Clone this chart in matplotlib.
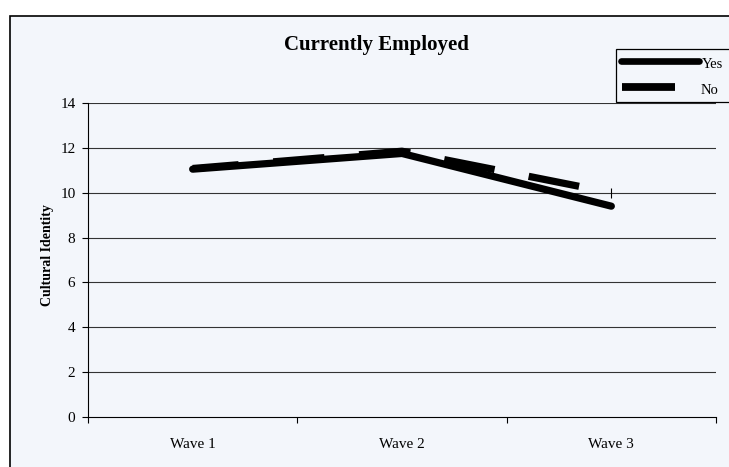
import matplotlib
matplotlib.use("Agg")
import matplotlib.pyplot as plt
from matplotlib.patches import Rectangle
from matplotlib.lines import Line2D

plt.rcParams["font.family"] = ["Liberation Serif", "DejaVu Serif"]
plt.rcParams["lines.scale_dashes"] = False

# Data
waves = ["Wave 1", "Wave 2", "Wave 3"]
employed_yes = [11.05, 11.75, 9.4]
employed_no = [11.08, 11.85, 10.0]
y_ticks = [0, 2, 4, 6, 8, 10, 12, 14]

W, H = 729, 467
BG = "#F3F6FB"
fig = plt.figure(figsize=(W / 100, H / 100), dpi=100)
fig.patch.set_facecolor("white")

def fx(px):
    return px / W

def fy(py):
    return 1 - py / H

# Outer chart frame (open on the right and bottom edges)
fig.patches.append(Rectangle((fx(9.5), fy(500)), fx(760), fy(16) - fy(500),
                             transform=fig.transFigure, facecolor=BG,
                             edgecolor="black", linewidth=1.2, zorder=-5))

ax = fig.add_axes([fx(88), fy(417), fx(716) - fx(88), fy(103) - fy(417)])
ax.set_facecolor("none")
ax.set_zorder(2)

x = list(range(len(waves)))
ax.plot(x, employed_yes, color="black", linewidth=5.2, solid_capstyle="round",
        solid_joinstyle="round", zorder=3)
ax.plot(x, employed_no, color="black", linewidth=5.2,
        linestyle=(3.8, (37, 25)), dash_capstyle="butt", zorder=3)
ax.plot([x[-1]], [employed_no[-1]], marker="|", markersize=7,
        markeredgewidth=0.8, color="black", zorder=3)

ax.set_xlim(-0.5, len(waves) - 0.5)
ax.set_ylim(0, 14)
ax.set_yticks(y_ticks)
ax.set_yticklabels([str(t) for t in y_ticks], fontsize=11)
ax.set_xticks(x)
ax.set_xticklabels(waves, fontsize=11)
ax.set_xticks([-0.5, 0.5, 1.5, 2.5], minor=True)
ax.tick_params(axis="x", which="major", length=0, pad=15)
ax.tick_params(axis="x", which="minor", length=4, width=0.8, direction="out")
ax.tick_params(axis="y", length=4, width=0.8, direction="out", pad=5)

for t in y_ticks[1:]:
    ax.axhline(t, color="#333333", linewidth=0.8, zorder=1)

for side in ["top", "right"]:
    ax.spines[side].set_visible(False)
for side in ["left", "bottom"]:
    ax.spines[side].set_linewidth(0.8)

ax.set_ylabel("Cultural Identity", fontsize=10, fontweight="bold")
ax.yaxis.set_label_coords(-0.054, 0.515)

fig.text(fx(376), fy(45), "Currently Employed", fontsize=15, fontweight="bold",
         ha="center", va="center")

# Legend box
fig.patches.append(Rectangle((fx(616), fy(102)), fx(200), fy(49) - fy(102),
                             transform=fig.transFigure, facecolor=BG,
                             edgecolor="black", linewidth=0.9, zorder=4))
fig.lines.append(Line2D([fx(621), fx(699)], [fy(60.5), fy(60.5)],
                        transform=fig.transFigure, color="black", linewidth=4.8,
                        solid_capstyle="round", zorder=5))
fig.lines.append(Line2D([fx(622), fx(675)], [fy(87), fy(87)],
                        transform=fig.transFigure, color="black", linewidth=5.6,
                        solid_capstyle="butt", zorder=5))
fig.text(fx(702), fy(64), "Yes", fontsize=10.5, ha="left", va="center", zorder=6)
fig.text(fx(701), fy(91), "No", fontsize=10.5, ha="left", va="center", zorder=6)

fig.savefig("out.png", dpi=100, facecolor="white")
